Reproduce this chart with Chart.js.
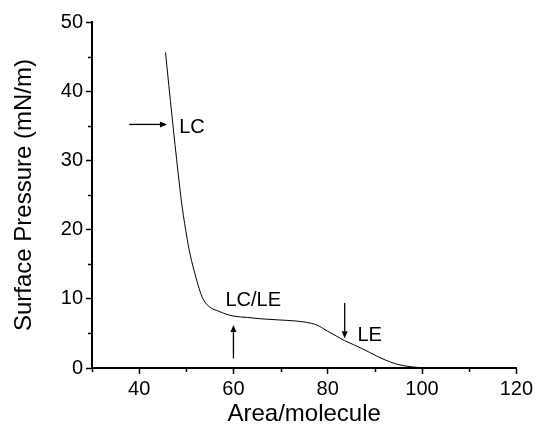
<!DOCTYPE html>
<html>
<head>
<meta charset="utf-8">
<script src="https://cdn.jsdelivr.net/npm/chart.js@4"></script>
<style>
  html, body { margin: 0; padding: 0; background: #fff; }
  #wrap { width: 536px; height: 429px; }
</style>
</head>
<body>
<div id="wrap"><canvas id="isotherm"></canvas></div>
<script>
// Isotherm
const area = [45.6, 46.3, 47.0, 47.6, 48.3, 49.1, 50.2, 50.6, 51.6, 53.4, 54.8, 56.9, 58.4, 60.0, 63.0, 66.0, 69.5, 73.1, 75.5, 76.6, 77.7, 78.7, 80.0, 81.5, 83.6, 85.4, 87.1, 88.9, 90.6, 92.4, 94.2, 96.0, 97.7, 100, 110, 120];
const pressure = [45.6, 40.8, 36.2, 32.3, 28.0, 23.4, 18.6, 17.1, 14.2, 10.2, 8.9, 8.2, 7.8, 7.5, 7.3, 7.1, 6.95, 6.8, 6.6, 6.45, 6.2, 5.85, 5.3, 4.75, 3.95, 3.4, 2.85, 2.25, 1.65, 1.1, 0.65, 0.35, 0.18, 0.05, 0.02, 0.0];

// Phase labels and arrows (in data units)
const phaseLabels = ["LC", "LC/LE", "LE"];
const phaseLabelX = [51.2, 64.2, 88.9];
const phaseLabelY = [34.8, 9.7, 4.7];
const arrowFromX = [37.9, 60.0, 83.6];
const arrowFromY = [35.2, 1.4, 9.4];
const arrowToX = [45.9, 60.0, 83.6];
const arrowToY = [35.2, 6.2, 4.3];

const points = area.map((a, i) => ({ x: a, y: pressure[i] }));
const FONT = "'Liberation Sans', Arial, sans-serif";

// minor ticks, phase arrows and labels
const extras = {
  id: "extras",
  afterDraw(chart) {
    const c = chart.ctx;
    const xs = chart.scales.x;
    const ys = chart.scales.y;
    c.save();
    c.strokeStyle = "#000";
    c.fillStyle = "#000";
    c.lineWidth = 1.5;

    // minor ticks
    for (let v = 30; v <= 120; v += 20) {
      const px = Math.round(xs.getPixelForValue(v)) + 0.5;
      c.beginPath();
      c.moveTo(px, ys.bottom);
      c.lineTo(px, ys.bottom + 4);
      c.stroke();
    }
    for (let v = 5; v < 50; v += 10) {
      const py = Math.round(ys.getPixelForValue(v)) + 0.5;
      c.beginPath();
      c.moveTo(xs.left, py);
      c.lineTo(xs.left - 4, py);
      c.stroke();
    }

    // arrows
    c.lineWidth = 1.3;
    for (let i = 0; i < arrowFromX.length; i++) {
      const x0 = xs.getPixelForValue(arrowFromX[i]);
      const y0 = ys.getPixelForValue(arrowFromY[i]);
      const x1 = xs.getPixelForValue(arrowToX[i]);
      const y1 = ys.getPixelForValue(arrowToY[i]);
      const ang = Math.atan2(y1 - y0, x1 - x0);
      const hl = 7, hw = 3;
      const bx = x1 - hl * Math.cos(ang);
      const by = y1 - hl * Math.sin(ang);
      c.beginPath();
      c.moveTo(x0, y0);
      c.lineTo(bx, by);
      c.stroke();
      c.beginPath();
      c.moveTo(x1, y1);
      c.lineTo(bx + hw * Math.sin(ang), by - hw * Math.cos(ang));
      c.lineTo(bx - hw * Math.sin(ang), by + hw * Math.cos(ang));
      c.closePath();
      c.fill();
    }

    // labels
    c.font = "20px " + FONT;
    c.textAlign = "center";
    c.textBaseline = "middle";
    phaseLabels.forEach((t, i) => {
      c.fillText(t, xs.getPixelForValue(phaseLabelX[i]), ys.getPixelForValue(phaseLabelY[i]));
    });
    c.restore();
  },
};

const ctx = document.getElementById("isotherm").getContext("2d");
new Chart(ctx, {
  type: "scatter",
  data: {
    datasets: [
      {
        data: points,
        showLine: true,
        borderColor: "#000",
        borderWidth: 1,
        pointRadius: 0,
        cubicInterpolationMode: "monotone",
        fill: false,
      },
    ],
  },
  options: {
    responsive: true,
    maintainAspectRatio: false,
    animation: false,
    layout: { padding: { left: 0, right: 17, top: 22, bottom: 0 } },
    plugins: {
      legend: { display: false },
      tooltip: { enabled: false },
    },
    scales: {
      x: {
        type: "linear",
        min: 30,
        max: 120,
        afterFit: (s) => { s.height = 61; },
        ticks: {
          stepSize: 20,
          color: "#000",
          padding: 3,
          font: { family: FONT, size: 20 },
          callback: (v) => (v === 30 ? "" : v),
        },
        grid: {
          drawOnChartArea: false,
          drawTicks: true,
          tickLength: 6,
          tickWidth: 1.5,
          color: (c) => (c.tick && c.tick.value === 30 ? "rgba(0,0,0,0)" : "#000"),
        },
        border: { color: "#000", width: 2 },
        title: {
          display: true,
          text: "Area/molecule",
          color: "#000",
          padding: { top: 0, bottom: 0 },
          font: { family: FONT, size: 24 },
        },
      },
      y: {
        min: 0,
        max: 50,
        afterFit: (s) => { s.width = 92; },
        ticks: {
          stepSize: 10,
          color: "#000",
          padding: 3,
          font: { family: FONT, size: 20 },
        },
        grid: {
          drawOnChartArea: false,
          drawTicks: true,
          tickLength: 6,
          tickWidth: 1.5,
          color: "#000",
        },
        border: { color: "#000", width: 2 },
        title: {
          display: true,
          text: "Surface Pressure (mN/m)",
          color: "#000",
          padding: { top: 10, bottom: 0 },
          font: { family: FONT, size: 24 },
        },
      },
    },
  },
  plugins: [extras],
});
</script>
</body>
</html>
